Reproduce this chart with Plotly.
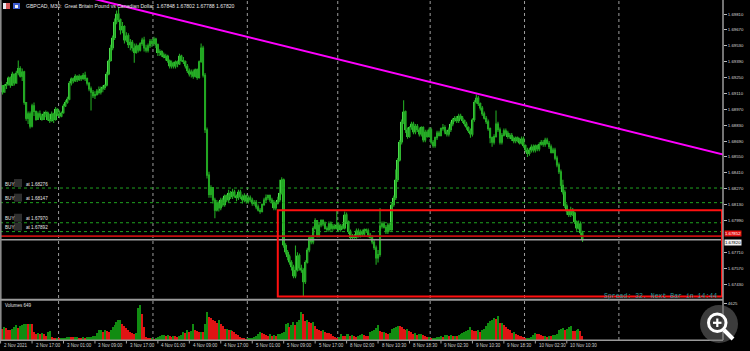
import plotly.graph_objects as go

# ---------------- data ----------------
bars = list(range(297))

close = [
1.6918, 1.6912, 1.6918, 1.6919, 1.6925, 1.6918, 1.6928, 1.6920, 1.6929, 1.6933,
1.6926, 1.6930, 1.6903, 1.6889, 1.6893, 1.6882, 1.6900, 1.6895, 1.6888, 1.6893,
1.6891, 1.6888, 1.6893, 1.6894, 1.6888, 1.6887, 1.6893, 1.6888, 1.6897, 1.6893,
1.6891, 1.6894, 1.6900, 1.6903, 1.6906, 1.6920, 1.6924, 1.6922, 1.6926, 1.6923,
1.6926, 1.6924, 1.6927, 1.6924, 1.6920, 1.6915, 1.6912, 1.6909, 1.6910, 1.6913,
1.6912, 1.6915, 1.6916, 1.6918, 1.6928, 1.6940, 1.6951, 1.6960, 1.6974, 1.6981,
1.6976, 1.6967, 1.6970, 1.6958, 1.6962, 1.6954, 1.6956, 1.6951, 1.6947, 1.6953,
1.6949, 1.6955, 1.6958, 1.6951, 1.6949, 1.6953, 1.6957, 1.6955, 1.6959, 1.6954,
1.6947, 1.6948, 1.6945, 1.6943, 1.6944, 1.6940, 1.6935, 1.6938, 1.6935, 1.6939,
1.6937, 1.6944, 1.6940, 1.6939, 1.6935, 1.6931, 1.6928, 1.6930, 1.6926, 1.6932,
1.6925, 1.6939, 1.6951, 1.6927, 1.6879, 1.6839, 1.6822, 1.6828, 1.6817, 1.6808,
1.6814, 1.6810, 1.6817, 1.6813, 1.6821, 1.6817, 1.6823, 1.6820, 1.6824, 1.6821,
1.6819, 1.6824, 1.6820, 1.6817, 1.6821, 1.6816, 1.6819, 1.6817, 1.6814, 1.6815,
1.6811, 1.6808, 1.6807, 1.6813, 1.6817, 1.6819, 1.6821, 1.6817, 1.6815, 1.6810,
1.6814, 1.6817, 1.6823, 1.6835, 1.6777, 1.6771, 1.6767, 1.6762, 1.6758, 1.6750,
1.6755, 1.6768, 1.6757, 1.6755, 1.6745, 1.6762, 1.6773, 1.6784, 1.6780, 1.6792,
1.6799, 1.6786, 1.6795, 1.6799, 1.6796, 1.6792, 1.6791, 1.6796, 1.6792, 1.6794,
1.6792, 1.6795, 1.6791, 1.6794, 1.6792, 1.6804, 1.6798, 1.6789, 1.6784, 1.6785,
1.6784, 1.6790, 1.6786, 1.6789, 1.6787, 1.6791, 1.6790, 1.6786, 1.6784, 1.6780,
1.6775, 1.6766, 1.6769, 1.6794, 1.6796, 1.6793, 1.6789, 1.6795, 1.6791, 1.6813,
1.6819, 1.6835, 1.6852, 1.6868, 1.6886, 1.6895, 1.6879, 1.6873, 1.6881, 1.6884,
1.6877, 1.6882, 1.6879, 1.6875, 1.6881, 1.6870, 1.6877, 1.6873, 1.6879, 1.6868,
1.6865, 1.6872, 1.6876, 1.6874, 1.6880, 1.6881, 1.6877, 1.6875, 1.6879, 1.6884,
1.6888, 1.6889, 1.6887, 1.6891, 1.6889, 1.6887, 1.6884, 1.6881, 1.6878, 1.6875,
1.6888, 1.6903, 1.6907, 1.6902, 1.6898, 1.6893, 1.6889, 1.6886, 1.6880, 1.6872,
1.6868, 1.6873, 1.6884, 1.6879, 1.6868, 1.6874, 1.6878, 1.6876, 1.6873, 1.6874,
1.6871, 1.6869, 1.6872, 1.6870, 1.6867, 1.6871, 1.6865, 1.6861, 1.6858, 1.6861,
1.6864, 1.6861, 1.6865, 1.6862, 1.6866, 1.6868, 1.6866, 1.6870, 1.6867, 1.6864,
1.6859, 1.6861, 1.6854, 1.6848, 1.6842, 1.6830, 1.6824, 1.6812, 1.6807, 1.6804,
1.6808, 1.6806, 1.6798, 1.6792, 1.6796, 1.6788, 1.6782]

high = [
1.6923, 1.6918, 1.6919, 1.6921, 1.6926, 1.6926, 1.6930, 1.6925, 1.6931, 1.6940,
1.6935, 1.6933, 1.6931, 1.6903, 1.6895, 1.6895, 1.6902, 1.6903, 1.6896, 1.6895,
1.6896, 1.6893, 1.6895, 1.6896, 1.6895, 1.6893, 1.6895, 1.6894, 1.6899, 1.6898,
1.6896, 1.6895, 1.6902, 1.6905, 1.6908, 1.6922, 1.6925, 1.6925, 1.6928, 1.6927,
1.6928, 1.6927, 1.6929, 1.6930, 1.6925, 1.6921, 1.6917, 1.6914, 1.6913, 1.6915,
1.6917, 1.6917, 1.6918, 1.6919, 1.6930, 1.6941, 1.6954, 1.6962, 1.6977, 1.6984,
1.6987, 1.6977, 1.6974, 1.6971, 1.6965, 1.6964, 1.6959, 1.6958, 1.6955, 1.6955,
1.6954, 1.6956, 1.6960, 1.6961, 1.6954, 1.6955, 1.6959, 1.6959, 1.6961, 1.6960,
1.6955, 1.6950, 1.6949, 1.6947, 1.6946, 1.6945, 1.6941, 1.6940, 1.6939, 1.6940,
1.6940, 1.6946, 1.6945, 1.6943, 1.6940, 1.6937, 1.6933, 1.6932, 1.6932, 1.6933,
1.6933, 1.6940, 1.6955, 1.6953, 1.6929, 1.6881, 1.6842, 1.6830, 1.6827, 1.6819,
1.6817, 1.6816, 1.6819, 1.6819, 1.6822, 1.6822, 1.6826, 1.6825, 1.6827, 1.6826,
1.6822, 1.6826, 1.6826, 1.6822, 1.6823, 1.6822, 1.6821, 1.6821, 1.6819, 1.6817,
1.6817, 1.6813, 1.6810, 1.6814, 1.6819, 1.6822, 1.6822, 1.6822, 1.6819, 1.6817,
1.6816, 1.6820, 1.6835, 1.6837, 1.6836, 1.6779, 1.6773, 1.6769, 1.6764, 1.6760,
1.6777, 1.6771, 1.6770, 1.6760, 1.6757, 1.6764, 1.6775, 1.6785, 1.6786, 1.6794,
1.6801, 1.6799, 1.6797, 1.6800, 1.6800, 1.6798, 1.6794, 1.6798, 1.6798, 1.6796,
1.6796, 1.6808, 1.6797, 1.6796, 1.6796, 1.6807, 1.6806, 1.6799, 1.6791, 1.6787,
1.6787, 1.6792, 1.6792, 1.6791, 1.6791, 1.6792, 1.6792, 1.6792, 1.6788, 1.6786,
1.6782, 1.6777, 1.6773, 1.6810, 1.6798, 1.6798, 1.6795, 1.6797, 1.6797, 1.6815,
1.6821, 1.6844, 1.6854, 1.6870, 1.6888, 1.6905, 1.6896, 1.6881, 1.6882, 1.6886,
1.6886, 1.6884, 1.6884, 1.6881, 1.6882, 1.6882, 1.6879, 1.6879, 1.6881, 1.6881,
1.6870, 1.6873, 1.6878, 1.6878, 1.6881, 1.6884, 1.6883, 1.6879, 1.6881, 1.6886,
1.6889, 1.6891, 1.6891, 1.6893, 1.6893, 1.6891, 1.6888, 1.6886, 1.6882, 1.6880,
1.6889, 1.6905, 1.6910, 1.6909, 1.6903, 1.6900, 1.6895, 1.6891, 1.6888, 1.6881,
1.6873, 1.6875, 1.6896, 1.6886, 1.6881, 1.6876, 1.6880, 1.6880, 1.6878, 1.6876,
1.6876, 1.6873, 1.6873, 1.6873, 1.6872, 1.6873, 1.6873, 1.6866, 1.6863, 1.6863,
1.6866, 1.6866, 1.6866, 1.6866, 1.6868, 1.6870, 1.6870, 1.6872, 1.6872, 1.6869,
1.6866, 1.6863, 1.6863, 1.6856, 1.6850, 1.6844, 1.6835, 1.6826, 1.6814, 1.6808,
1.6811, 1.6810, 1.6807, 1.6799, 1.6799, 1.6798, 1.6790]

low = [
1.6916, 1.6910, 1.6913, 1.6915, 1.6918, 1.6916, 1.6919, 1.6918, 1.6923, 1.6927,
1.6925, 1.6922, 1.6901, 1.6887, 1.6884, 1.6880, 1.6881, 1.6891, 1.6887, 1.6888,
1.6889, 1.6887, 1.6888, 1.6890, 1.6887, 1.6885, 1.6886, 1.6885, 1.6887, 1.6891,
1.6889, 1.6890, 1.6893, 1.6899, 1.6902, 1.6905, 1.6918, 1.6920, 1.6921, 1.6921,
1.6922, 1.6922, 1.6923, 1.6922, 1.6918, 1.6913, 1.6896, 1.6907, 1.6906, 1.6909,
1.6910, 1.6910, 1.6912, 1.6914, 1.6917, 1.6927, 1.6939, 1.6949, 1.6958, 1.6972,
1.6974, 1.6963, 1.6964, 1.6955, 1.6956, 1.6951, 1.6949, 1.6948, 1.6938, 1.6946,
1.6947, 1.6948, 1.6953, 1.6948, 1.6947, 1.6947, 1.6951, 1.6952, 1.6953, 1.6951,
1.6944, 1.6944, 1.6943, 1.6942, 1.6940, 1.6938, 1.6933, 1.6933, 1.6933, 1.6933,
1.6934, 1.6936, 1.6939, 1.6937, 1.6933, 1.6929, 1.6926, 1.6925, 1.6924, 1.6925,
1.6923, 1.6924, 1.6938, 1.6925, 1.6876, 1.6836, 1.6819, 1.6819, 1.6814, 1.6801,
1.6807, 1.6807, 1.6808, 1.6811, 1.6811, 1.6815, 1.6815, 1.6818, 1.6818, 1.6819,
1.6816, 1.6817, 1.6818, 1.6814, 1.6815, 1.6814, 1.6814, 1.6815, 1.6812, 1.6812,
1.6809, 1.6807, 1.6805, 1.6806, 1.6812, 1.6815, 1.6817, 1.6815, 1.6814, 1.6808,
1.6808, 1.6813, 1.6815, 1.6822, 1.6775, 1.6769, 1.6764, 1.6760, 1.6755, 1.6748,
1.6748, 1.6754, 1.6755, 1.6753, 1.6732, 1.6743, 1.6761, 1.6771, 1.6778, 1.6778,
1.6791, 1.6784, 1.6784, 1.6793, 1.6794, 1.6791, 1.6789, 1.6789, 1.6790, 1.6790,
1.6791, 1.6791, 1.6789, 1.6789, 1.6791, 1.6791, 1.6796, 1.6787, 1.6782, 1.6782,
1.6783, 1.6783, 1.6784, 1.6784, 1.6785, 1.6785, 1.6788, 1.6784, 1.6783, 1.6778,
1.6773, 1.6760, 1.6762, 1.6767, 1.6792, 1.6792, 1.6787, 1.6787, 1.6789, 1.6789,
1.6811, 1.6817, 1.6833, 1.6851, 1.6866, 1.6884, 1.6876, 1.6871, 1.6872, 1.6879,
1.6875, 1.6875, 1.6877, 1.6873, 1.6873, 1.6868, 1.6868, 1.6872, 1.6872, 1.6866,
1.6863, 1.6863, 1.6870, 1.6873, 1.6873, 1.6878, 1.6875, 1.6873, 1.6873, 1.6877,
1.6882, 1.6886, 1.6885, 1.6885, 1.6888, 1.6885, 1.6882, 1.6879, 1.6876, 1.6872,
1.6873, 1.6886, 1.6902, 1.6900, 1.6896, 1.6891, 1.6888, 1.6884, 1.6878, 1.6867,
1.6864, 1.6866, 1.6872, 1.6877, 1.6866, 1.6866, 1.6873, 1.6874, 1.6871, 1.6871,
1.6869, 1.6867, 1.6867, 1.6868, 1.6866, 1.6866, 1.6863, 1.6859, 1.6855, 1.6856,
1.6859, 1.6859, 1.6859, 1.6860, 1.6860, 1.6865, 1.6864, 1.6864, 1.6866, 1.6862,
1.6858, 1.6858, 1.6852, 1.6846, 1.6840, 1.6829, 1.6822, 1.6810, 1.6804, 1.6802,
1.6802, 1.6803, 1.6796, 1.6790, 1.6791, 1.6786, 1.6780]

first_open = 1.6921
opens = [first_open] + close[:-1]

volume = [
2050, 1410, 1620, 1530, 1280, 1200, 1410, 1620, 1840, 1540,
1790, 1840, 2050, 2050, 2000, 2050, 1960, 980, 770, 850,
770, 850, 770, 560, 980, 1110, 430, 210, 130, 210,
130, 170, 260, 260, 340, 430, 380, 340, 380, 430,
300, 260, 340, 300, 340, 380, 430, 510, 560, 850,
1200, 1280, 980, 1200, 1150, 980, 1200, 1620, 1880, 2220,
2480, 2560, 2050, 1790, 1540, 1200, 1020, 850, 770, 850,
3970, 4400, 3240, 1620, 340, 210, 130, 170, 85, 210,
430, 560, 600, 680, 560, 600, 470, 430, 560, 470,
430, 560, 680, 980, 850, 1200, 980, 1110, 2050, 1280,
1110, 980, 1020, 980, 2050, 3540, 2900, 2690, 2480, 2390,
2130, 2480, 2050, 1710, 1370, 1410, 1200, 1280, 1110, 980,
810, 600, 340, 210, 130, 85, 130, 170, 210, 340,
560, 770, 980, 850, 770, 640, 560, 730, 560, 640,
560, 770, 810, 900, 980, 2050, 2130, 1580, 1880, 2260,
1840, 2260, 2520, 3540, 3240, 2390, 2480, 2260, 2090, 2220,
1710, 1410, 1280, 1150, 1200, 1020, 900, 850, 730, 510,
380, 260, 340, 770, 560, 510, 730, 770, 560, 680,
510, 380, 560, 680, 770, 640, 510, 470, 980, 1110,
1280, 1540, 1840, 1110, 980, 980, 850, 810, 850, 1370,
1540, 1620, 1750, 1710, 1620, 1410, 1280, 1370, 1110, 940,
770, 850, 680, 770, 770, 640, 510, 340, 340, 130,
130, 210, 340, 430, 510, 430, 600, 640, 510, 680,
470, 560, 510, 640, 770, 850, 980, 1150, 1280, 1620,
1280, 1110, 1070, 1200, 980, 1200, 1370, 1710, 2180, 2430,
2560, 2690, 2650, 2990, 2130, 2130, 1840, 1620, 1370, 1200,
900, 980, 770, 680, 560, 510, 340, 130, 130, 260,
380, 680, 850, 770, 730, 600, 470, 510, 430, 560,
470, 600, 680, 770, 1200, 1320, 1490, 1240, 1410, 1620,
1710, 1150, 1110, 1280, 1410, 1150, 560]

# 1.67850 is covered by the ask-price label in the reference, so it is not listed
price_ticks = [1.67430, 1.67570, 1.67710, 1.67990, 1.68130, 1.68270,
               1.68410, 1.68550, 1.68690, 1.68830, 1.68970, 1.69110, 1.69250,
               1.69390, 1.69530, 1.69670, 1.69810]
price_tick_text = ["%.5f" % v for v in price_ticks]
volume_ticks = [4625]

buy_levels = [1.68276, 1.68147, 1.67970, 1.67892]
ask_price = 1.67852
bid_price = 1.67820
rect_start_bar = 141
rect_top = 1.6808
rect_bottom = 1.6732
trend_bars = [60, 242]
trend_prices = [1.6989, 1.6911]

day_start_bars = [30, 78, 126, 172, 219, 267, 315]
time_label_bars = [0, 16, 32, 48, 64, 80, 96, 112, 128, 144, 160, 176, 192,
                   208, 224, 240, 256, 272, 288]
time_labels = ["2 Nov 2021", "2 Nov 17:00", "3 Nov 01:00", "3 Nov 09:00",
               "3 Nov 17:00", "4 Nov 01:00", "4 Nov 09:00", "4 Nov 17:00",
               "5 Nov 01:00", "5 Nov 09:00", "5 Nov 17:00", "8 Nov 02:00",
               "8 Nov 10:30", "8 Nov 18:30", "9 Nov 02:30", "9 Nov 10:30",
               "9 Nov 18:30", "10 Nov 02:30", "10 Nov 10:30"]

title_text = "GBPCAD, M30:  Great Britain Pound vs Canadian Dollar  1.67848 1.67802 1.67788 1.67820"
volume_label = "Volumes 649"
spread_text = "Spread: 32. Next Bar in 14:44"

# ---------------- layout geometry ----------------
W, H = 750, 351
MR, MB = 27, 11
PW, PH = W - MR, H - MB
X_RANGE = [-0.3, 367.45]
Y_RANGE = [1.673067, 1.699334]
V_RANGE = [0, 5000]


def px(x):
    return x / PW


def py(y):
    return (PH - y) / PH


BODY_UP = "#66F866"
BODY_DN = "#40D040"
WICK = "#22A622"
VOL_UP = "#118C11"
VOL_DN = "#E01414"
FONT = "Liberation Sans"

vol_colors = []
for i, v in enumerate(volume):
    if i == 0 or v >= volume[i - 1]:
        vol_colors.append(VOL_UP)
    else:
        vol_colors.append(VOL_DN)

body_colors = [BODY_UP if c >= o else BODY_DN for o, c in zip(opens, close)]
body_size = [c - o for o, c in zip(opens, close)]

fig = go.Figure()

fig.add_trace(go.Candlestick(
    x=bars, open=opens, high=high, low=low, close=close,
    increasing=dict(line=dict(color=WICK, width=1.1), fillcolor=WICK),
    decreasing=dict(line=dict(color=WICK, width=1.1), fillcolor=WICK),
    whiskerwidth=0, hoverinfo="skip", showlegend=False,
    xaxis="x", yaxis="y"))
fig.add_trace(go.Bar(
    x=bars, y=body_size, base=opens, width=0.9,
    marker=dict(color=body_colors, line=dict(width=0)),
    hoverinfo="skip", showlegend=False, xaxis="x", yaxis="y"))

fig.add_trace(go.Bar(
    x=bars, y=volume, marker=dict(color=vol_colors, line=dict(width=0)),
    width=0.62, hoverinfo="skip", showlegend=False, xaxis="x", yaxis="y2"))

slope = (trend_prices[1] - trend_prices[0]) / (trend_bars[1] - trend_bars[0])
tx = [40, 380]
ty = [trend_prices[0] + slope * (t - trend_bars[0]) for t in tx]
fig.add_trace(go.Scatter(x=tx, y=ty, mode="lines",
                         line=dict(color="#FF00FF", width=2),
                         hoverinfo="skip", showlegend=False,
                         xaxis="x", yaxis="y"))

shapes = []
for b in day_start_bars:
    shapes.append(dict(type="line", xref="x", yref="paper", x0=b - 0.5, x1=b - 0.5,
                       y0=0, y1=1, line=dict(color="#9C9C9C", width=1, dash="dot"),
                       layer="below"))
for lv in buy_levels:
    shapes.append(dict(type="line", xref="paper", yref="y", x0=0, x1=1, y0=lv, y1=lv,
                       line=dict(color="#1FA21F", width=1, dash="dot")))
    shapes.append(dict(type="rect", xref="paper", yref="y", x0=px(14), x1=px(22),
                       ysizemode="pixel", yanchor=lv, y0=1, y1=9,
                       fillcolor="#2E2E2E", line=dict(width=0)))
shapes.append(dict(type="line", xref="paper", yref="y", x0=0, x1=1,
                   y0=ask_price, y1=ask_price, line=dict(color="#C41010", width=1.6)))
shapes.append(dict(type="line", xref="paper", yref="y", x0=0, x1=1,
                   y0=bid_price, y1=bid_price, line=dict(color="#A0A0A0", width=1.6)))
shapes.append(dict(type="rect", xref="x", yref="y", x0=rect_start_bar, x1=X_RANGE[1] - 0.5,
                   y0=rect_bottom, y1=rect_top, line=dict(color="#FF1010", width=2)))
shapes.append(dict(type="line", xref="paper", yref="paper", x0=1, x1=1, y0=0, y1=1,
                   line=dict(color="#9A9A9A", width=1.5)))
shapes.append(dict(type="line", xref="paper", yref="paper", x0=px(0.8), x1=px(0.8), y0=0, y1=1,
                   line=dict(color="#8A8A8A", width=1.6)))
shapes.append(dict(type="line", xref="paper", yref="paper", x0=0, x1=1,
                   y0=py(299.8), y1=py(299.8), line=dict(color="#9A9A9A", width=2)))
shapes.append(dict(type="line", xref="paper", yref="paper", x0=0, x1=1,
                   y0=py(340.3), y1=py(340.3), line=dict(color="#9A9A9A", width=1.5)))
for b in time_label_bars:
    shapes.append(dict(type="line", xref="x", yref="paper", x0=b, x1=b,
                       y0=py(340.5), y1=py(343.5), line=dict(color="#A0A0A0", width=1)))
shapes.append(dict(type="rect", xref="paper", yref="paper", x0=px(3), x1=px(10),
                   y0=py(9), y1=py(3), fillcolor="#D85A5A", line=dict(width=0)))
shapes.append(dict(type="rect", xref="paper", yref="paper", x0=px(3), x1=px(6),
                   y0=py(9), y1=py(3), fillcolor="#E8E8F0", line=dict(width=0)))
shapes.append(dict(type="rect", xref="paper", yref="paper", x0=px(13), x1=px(20),
                   y0=py(9), y1=py(3), fillcolor="#3A5BD0", line=dict(width=0)))
shapes.append(dict(type="rect", xref="paper", yref="paper", x0=px(15), x1=px(18),
                   y0=py(8), y1=py(5), fillcolor="#F0F0F0", line=dict(width=0)))
shapes.append(dict(type="circle", xref="paper", yref="paper", x0=px(700), x1=px(738),
                   y0=py(343), y1=py(305), fillcolor="rgba(110,110,110,0.55)",
                   line=dict(width=0)))
shapes.append(dict(type="circle", xref="paper", yref="paper", x0=px(708.5), x1=px(726),
                   y0=py(331.5), y1=py(314), fillcolor="rgba(50,50,50,0.7)",
                   line=dict(color="#FFFFFF", width=3)))
shapes.append(dict(type="line", xref="paper", yref="paper", x0=px(713), x1=px(721.5),
                   y0=py(322.8), y1=py(322.8), line=dict(color="#FFFFFF", width=2.2)))
shapes.append(dict(type="line", xref="paper", yref="paper", x0=px(717.3), x1=px(717.3),
                   y0=py(318.5), y1=py(327), line=dict(color="#FFFFFF", width=2.2)))
shapes.append(dict(type="line", xref="paper", yref="paper", x0=px(724), x1=px(733),
                   y0=py(330), y1=py(339), line=dict(color="#FFFFFF", width=4)))

ann = []
ann.append(dict(text=title_text, xref="paper", yref="paper", x=px(24), y=py(6.2),
                xanchor="left", yanchor="middle", showarrow=False,
                font=dict(family=FONT, size=5.1, color="#E6E6E6")))
for lv in buy_levels:
    ann.append(dict(text="BUY", xref="paper", yref="y", x=px(3), y=lv, yshift=4,
                    xanchor="left", yanchor="middle", showarrow=False,
                    font=dict(family=FONT, size=4.6, color="#E6E6E6")))
    ann.append(dict(text="at %.5f" % lv, xref="paper", yref="y", x=px(23.5), y=lv, yshift=4,
                    xanchor="left", yanchor="middle", showarrow=False,
                    font=dict(family=FONT, size=4.6, color="#E6E6E6")))
ann.append(dict(text="%.5f" % ask_price, xref="paper", yref="y", x=px(724), y=ask_price,
                yshift=2.5, xanchor="left", yanchor="middle", showarrow=False,
                bgcolor="#E01010", borderpad=0,
                font=dict(family=FONT, size=4.3, color="#FFFFFF")))
ann.append(dict(text="%.5f" % bid_price, xref="paper", yref="y", x=px(724), y=bid_price,
                yshift=-2.5, xanchor="left", yanchor="middle", showarrow=False,
                bgcolor="#F2F2F2", borderpad=0,
                font=dict(family=FONT, size=4.3, color="#000000")))
ann.append(dict(text=volume_label, xref="paper", yref="paper", x=px(2.5), y=py(305.5),
                xanchor="left", yanchor="middle", showarrow=False,
                font=dict(family=FONT, size=4.5, color="#E0E0E0")))
ann.append(dict(text=spread_text, xref="paper", yref="paper", x=px(718.5), y=py(296),
                xanchor="right", yanchor="middle", showarrow=False,
                font=dict(family="Liberation Mono", size=6.5, color="#2A9E9E")))
for b, t in zip(time_label_bars, time_labels):
    ann.append(dict(text=t, xref="x", yref="paper", x=b, y=py(345.6), xshift=1.5,
                    xanchor="left", yanchor="middle", showarrow=False,
                    font=dict(family=FONT, size=4.5, color="#D0D0D0")))

fig.update_layout(
    template="none",
    width=W, height=H,
    margin=dict(l=0, r=MR, t=0, b=MB, pad=0),
    paper_bgcolor="#000000", plot_bgcolor="#000000",
    showlegend=False, barmode="overlay", bargap=0,
    xaxis=dict(range=X_RANGE, showgrid=False, zeroline=False, showticklabels=False,
               ticks="", showline=False, anchor="y2", rangeslider=dict(visible=False),
               automargin=False, fixedrange=True),
    yaxis=dict(domain=[py(298), 1], range=Y_RANGE, side="right", showgrid=False,
               zeroline=False, tickvals=price_ticks, ticktext=price_tick_text,
               ticks="outside", ticklen=3, tickwidth=1, tickcolor="#BBBBBB",
               tickfont=dict(family=FONT, size=4.3, color="#D8D8D8"),
               showline=False, automargin=False, anchor="x", fixedrange=True),
    yaxis2=dict(domain=[0, py(300)], range=V_RANGE, side="right", showgrid=False,
                zeroline=False, tickvals=volume_ticks, ticktext=[str(v) for v in volume_ticks],
                ticks="outside", ticklen=3, tickwidth=1, tickcolor="#BBBBBB",
                tickfont=dict(family=FONT, size=4.3, color="#D8D8D8"),
                showline=False, automargin=False, anchor="x", fixedrange=True),
    shapes=shapes,
    annotations=ann,
)

fig.write_html("out.html")
